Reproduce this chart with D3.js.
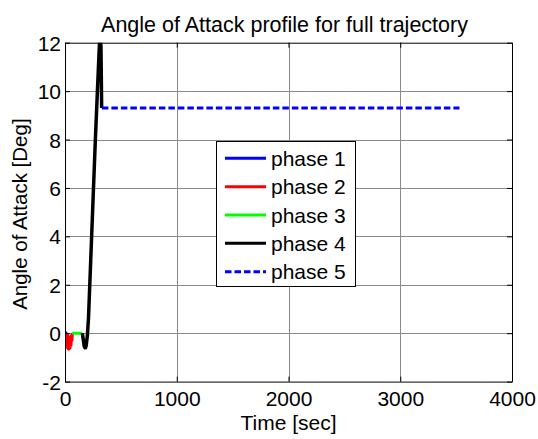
<!DOCTYPE html>
<html>
<head>
<meta charset="utf-8">
<script src="https://cdn.jsdelivr.net/npm/d3@7"></script>
<style>
  html, body { margin: 0; padding: 0; background: #fff; }
  svg { display: block; }
  text { font-family: "Liberation Sans", Arial, sans-serif; fill: #000; }
</style>
</head>
<body>
<svg id="chart" width="538" height="439"></svg>
<script>
// Angle of attack [deg] against time [sec] for each trajectory phase
const phase1Time = [0, 10, 20];
const phase1Aoa  = [0.05, 0, -0.1];

const phase2Time = [10, 14, 18, 22, 26, 30, 34, 38, 42, 46, 50, 54, 58, 62, 66, 70];
const phase2Aoa  = [-0.1, -0.5, -0.05, -0.6, -0.1, -0.65, -0.15, -0.65, -0.2, -0.6, -0.15, -0.5, -0.1, -0.3, -0.05, 0];

const phase3Time = [65, 100, 130, 155];
const phase3Aoa  = [0, 0, 0, 0];

const phase4Time = [155, 165, 172, 178, 184, 190, 200, 210, 230, 250, 270, 290, 305, 313, 322, 328];
const phase4Aoa  = [0, -0.3, -0.55, -0.6, -0.6, -0.5, -0.1, 0.6, 3.0, 5.4, 7.8, 10.0, 11.6, 12.4, 11.8, 9.3];

const phase5Time = [330, 3530];
const phase5Aoa  = [9.3, 9.3];

const xTicks = [0, 1000, 2000, 3000, 4000];
const yTicks = [-2, 0, 2, 4, 6, 8, 10, 12];

const seriesNames  = ["phase 1", "phase 2", "phase 3", "phase 4", "phase 5"];
const seriesColors = ["#0000ff", "#ff0000", "#00ff00", "#000000", "#0000ff"];
const seriesDashes = [null, null, null, null, "6.5,3"];

const series = [
  [phase1Time, phase1Aoa],
  [phase2Time, phase2Aoa],
  [phase3Time, phase3Aoa],
  [phase4Time, phase4Aoa],
  [phase5Time, phase5Aoa]
].map(([t, a], i) => ({
  name: seriesNames[i],
  color: seriesColors[i],
  dash: seriesDashes[i],
  points: t.map((v, j) => [v, a[j]])
}));

const plot = { left: 65, right: 512, top: 42.7, bottom: 381.6 };
const svg = d3.select("#chart");

const x = d3.scaleLinear().domain([0, 4000]).range([plot.left, plot.right]);
const y = d3.scaleLinear().domain([-2, 12]).range([plot.bottom, plot.top]);

const fontSize = 21;
const plain = d => String(d);

// grid
const grid = svg.append("g").attr("stroke", "#8a8a8a").attr("stroke-width", 1);
grid.selectAll("line.v").data(xTicks.slice(1, -1)).join("line")
  .attr("x1", d => Math.round(x(d)) + 0.5).attr("x2", d => Math.round(x(d)) + 0.5)
  .attr("y1", plot.top).attr("y2", plot.bottom);
grid.selectAll("line.h").data(yTicks.slice(1, -1)).join("line")
  .attr("y1", d => Math.round(y(d)) + 0.5).attr("y2", d => Math.round(y(d)) + 0.5)
  .attr("x1", plot.left).attr("x2", plot.right);

// data lines, clipped to the axes box
svg.append("clipPath").attr("id", "plotClip").append("rect")
  .attr("x", plot.left).attr("y", plot.top)
  .attr("width", plot.right - plot.left).attr("height", plot.bottom - plot.top);

const line = d3.line().x(d => x(d[0])).y(d => y(d[1]));
svg.append("g").attr("clip-path", "url(#plotClip)")
  .selectAll("path").data(series).join("path")
  .attr("d", d => line(d.points))
  .attr("fill", "none")
  .attr("stroke", d => d.color)
  .attr("stroke-width", (d, i) => i === 3 ? 3.5 : 3)
  .attr("stroke-linejoin", "round")
  .attr("stroke-dasharray", d => d.dash);

// axes box with inward ticks
const tickLen = 5;
const axisBottom = d3.axisBottom(x).tickValues(xTicks).tickFormat(plain).tickSizeInner(-tickLen).tickSizeOuter(0).tickPadding(9);
const axisTop = d3.axisTop(x).tickValues(xTicks).tickSizeInner(-tickLen).tickSizeOuter(0).tickFormat("");
const axisLeft = d3.axisLeft(y).tickValues(yTicks).tickFormat(plain).tickSizeInner(-tickLen).tickSizeOuter(0).tickPadding(8);
const axisRight = d3.axisRight(y).tickValues(yTicks).tickSizeInner(-tickLen).tickSizeOuter(0).tickFormat("");

function styleAxis(g) {
  g.select(".domain").attr("stroke", "#000").attr("stroke-width", 1);
  g.selectAll(".tick line").attr("stroke", "#000");
  g.selectAll(".tick text")
    .attr("font-family", "Liberation Sans, Arial, sans-serif")
    .attr("font-size", fontSize).attr("fill", "#000");
}

svg.append("g").attr("transform", `translate(0,${plot.bottom})`).call(axisBottom).call(styleAxis)
  .selectAll(".tick text").attr("dy", "0.72em");
svg.append("g").attr("transform", `translate(0,${plot.top})`).call(axisTop).call(styleAxis);
svg.append("g").attr("transform", `translate(${plot.left},0)`).call(axisLeft).call(styleAxis)
  .selectAll(".tick text").attr("dy", "0.36em").attr("x", -4);
svg.append("g").attr("transform", `translate(${plot.right},0)`).call(axisRight).call(styleAxis);

// titles
const midX = (plot.left + plot.right) / 2;
const midY = (plot.top + plot.bottom) / 2;
svg.append("text").attr("x", midX - 4).attr("y", 32)
  .attr("text-anchor", "middle").attr("font-size", 21.5)
  .text("Angle of Attack profile for full trajectory");
svg.append("text").attr("x", midX).attr("y", 430)
  .attr("text-anchor", "middle").attr("font-size", fontSize)
  .text("Time [sec]");
svg.append("text")
  .attr("transform", `translate(27,${midY + 2}) rotate(-90)`)
  .attr("text-anchor", "middle").attr("font-size", 20.5)
  .text("Angle of Attack [Deg]");

// legend
const legend = { left: 216.5, top: 141.5, width: 139, height: 145, rowTop: 158.3, rowStep: 28.35 };
const lg = svg.append("g");
lg.append("rect")
  .attr("x", legend.left).attr("y", legend.top)
  .attr("width", legend.width).attr("height", legend.height)
  .attr("fill", "#fff").attr("stroke", "#000").attr("stroke-width", 1);
const rows = lg.selectAll("g.row").data(series).join("g")
  .attr("transform", (d, i) => `translate(0,${legend.rowTop + i * legend.rowStep})`);
rows.append("line")
  .attr("x1", legend.left + 8.5).attr("x2", legend.left + 49.5)
  .attr("stroke", d => d.color).attr("stroke-width", 3)
  .attr("stroke-dasharray", d => d.dash);
rows.append("text")
  .attr("x", legend.left + 54.5).attr("dy", "0.36em")
  .attr("font-size", fontSize)
  .text(d => d.name);
</script>
</body>
</html>
